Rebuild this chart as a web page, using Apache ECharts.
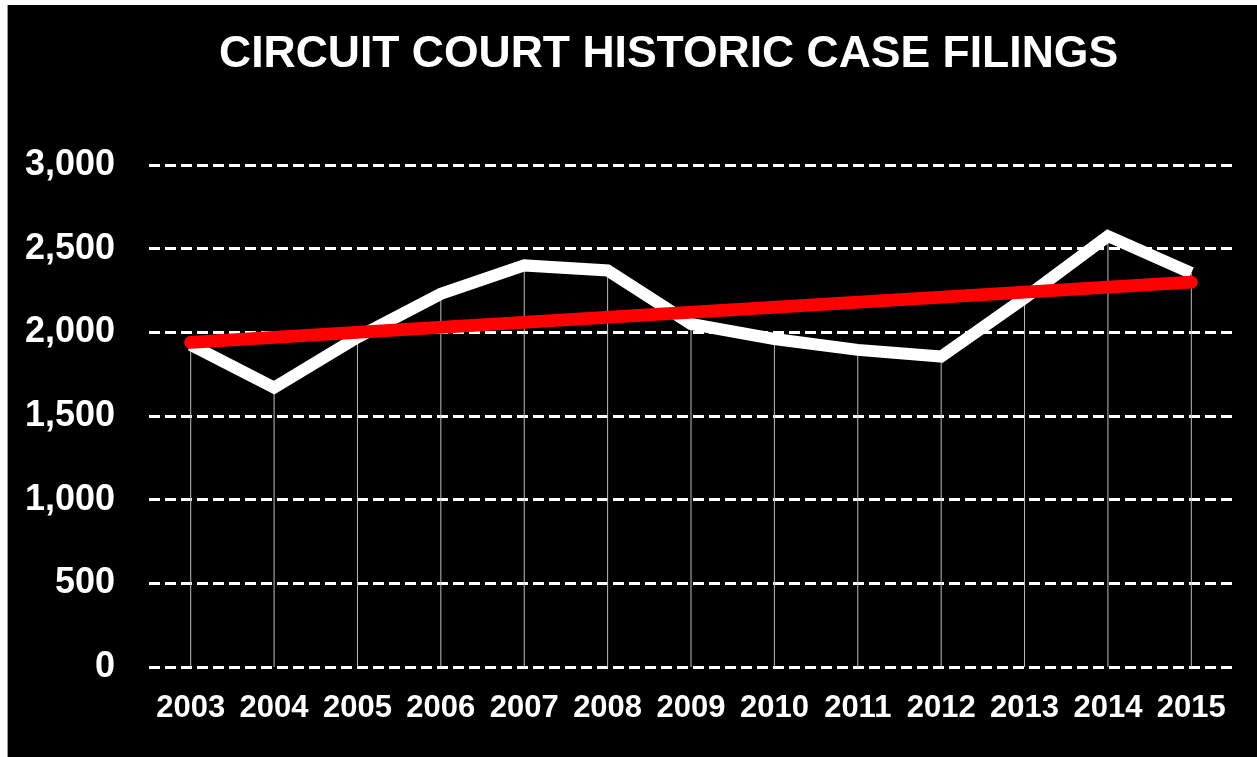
<!DOCTYPE html>
<html>
<head>
<meta charset="utf-8">
<title>Circuit Court Historic Case Filings</title>
<script src="https://cdn.jsdelivr.net/npm/echarts@6/dist/echarts.min.js"></script>
<style>
  html, body { margin: 0; padding: 0; background: #fff; }
  #chart {
    position: absolute;
    left: 7px;
    top: 5px;
    width: 1249px;
    height: 752px;
    border-left: 1px solid #9a9a9a;
  }
</style>
</head>
<body>
<div id="chart"></div>
<script>
// years on the x axis
const years = ["2003", "2004", "2005", "2006", "2007", "2008", "2009",
  "2010", "2011", "2012", "2013", "2014", "2015"];
// case filings per year
const filings = [1925, 1670, 1970, 2230, 2400, 2370, 2050,
  1960, 1895, 1855, 2205, 2575, 2355];
// linear trend, only the two ends are drawn
const trend = [1940, null, null, null, null, null, null,
  null, null, null, null, null, 2300];
const yTicks = [0, 500, 1000, 1500, 2000, 2500, 3000];

const fontFamily = "'Liberation Sans', Arial, sans-serif";
const chart = echarts.init(document.getElementById("chart"));

const option = {
  backgroundColor: "#000",
  animation: false,
  title: {
    text: "CIRCUIT COURT HISTORIC CASE FILINGS",
    left: 206,
    top: 22,
    textStyle: {
      color: "#fff",
      fontSize: 44.5,
      fontWeight: "bold",
      fontFamily: fontFamily,
    },
  },
  grid: {
    left: 141,
    right: 24,
    top: 160,
    bottom: 90,
  },
  xAxis: {
    type: "category",
    data: years,
    boundaryGap: true,
    axisLine: { show: false },
    axisTick: { show: false },
    axisLabel: {
      color: "#fff",
      fontSize: 31,
      fontWeight: "bold",
      fontFamily: fontFamily,
      margin: 26,
      interval: 0,
    },
  },
  yAxis: {
    type: "value",
    min: yTicks[0],
    max: yTicks[yTicks.length - 1],
    interval: 500,
    axisLine: { show: false },
    axisTick: { show: false },
    axisLabel: {
      color: "#fff",
      fontSize: 36,
      fontWeight: "bold",
      fontFamily: fontFamily,
      margin: 34,
      formatter: (v) => v.toLocaleString("en-US"),
    },
    splitLine: {
      show: true,
      lineStyle: { color: "#fff", width: 3, type: [11, 5] },
    },
  },
  series: [
    {
      // thin drop lines from each point to zero
      type: "bar",
      data: filings,
      barWidth: 1,
      z: 1,
      itemStyle: { color: "#bdbdbd" },
      silent: true,
    },
    {
      name: "Filings",
      type: "line",
      data: filings,
      z: 2,
      symbol: "none",
      lineStyle: { color: "#fff", width: 12, join: "miter" },
    },
    {
      name: "Trend",
      type: "line",
      data: trend,
      connectNulls: true,
      z: 3,
      symbol: "none",
      lineStyle: { color: "#ff0000", width: 13, cap: "round" },
    },
  ],
};

chart.setOption(option);
</script>
</body>
</html>
